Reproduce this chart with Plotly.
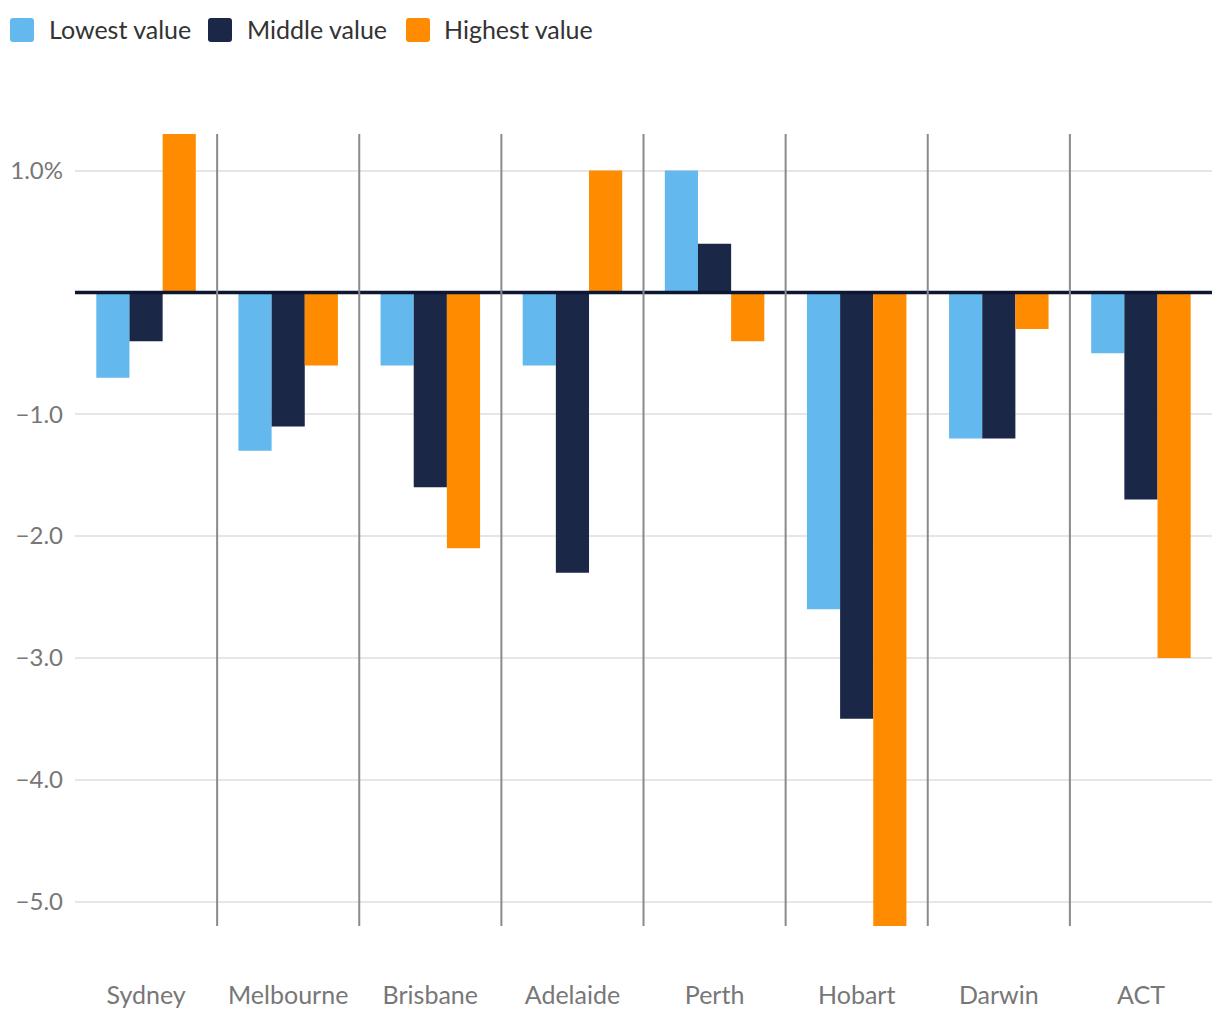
import plotly.graph_objects as go

categories = ["Sydney", "Melbourne", "Brisbane", "Adelaide", "Perth", "Hobart", "Darwin", "ACT"]
lowest = [-0.7, -1.3, -0.6, -0.6, 1.0, -2.6, -1.2, -0.5]
middle = [-0.4, -1.1, -1.6, -2.3, 0.4, -3.5, -1.2, -1.7]
highest = [1.3, -0.6, -2.1, 1.0, -0.4, -5.2, -0.3, -3.0]

series_names = ["Lowest value", "Middle value", "Highest value"]
series_colors = ["#63b8ee", "#1a2747", "#ff8c00"]
y_tickvals = [1, -1, -2, -3, -4, -5]
y_ticktext = ["1.0%", "\u22121.0", "\u22122.0", "\u22123.0", "\u22124.0", "\u22125.0"]

FONT = "Lato"
W, H = 1220, 1020
ML, MR, MT, MB = 67, 16, 126, 102
PW, PH = W - ML - MR, H - MT - MB


def px_x(px):
    return (px - ML) / PW


def px_y(py):
    return 1 - (py - MT) / PH


def rounded_square(x0, y0, size, r):
    X = lambda v: f"{px_x(v):.5f}"
    Y = lambda v: f"{px_y(v):.5f}"
    x1, y1 = x0 + size, y0 + size
    return (f"M {X(x0 + r)} {Y(y0)} L {X(x1 - r)} {Y(y0)} Q {X(x1)} {Y(y0)} {X(x1)} {Y(y0 + r)} "
            f"L {X(x1)} {Y(y1 - r)} Q {X(x1)} {Y(y1)} {X(x1 - r)} {Y(y1)} "
            f"L {X(x0 + r)} {Y(y1)} Q {X(x0)} {Y(y1)} {X(x0)} {Y(y1 - r)} "
            f"L {X(x0)} {Y(y0 + r)} Q {X(x0)} {Y(y0)} {X(x0 + r)} {Y(y0)} Z")


fig = go.Figure()
for name, vals, col in zip(series_names, [lowest, middle, highest], series_colors):
    fig.add_trace(go.Bar(x=categories, y=vals, name=name, marker=dict(color=col, line=dict(width=0)),
                         showlegend=False))

shapes = []
shapes.append(dict(type="line", xref="paper", x0=0, x1=1, yref="y", y0=0, y1=0,
                   line=dict(color="#0d1633", width=3.5), layer="above"))
for i in range(len(categories) - 1):
    shapes.append(dict(type="line", xref="x", x0=i + 0.5, x1=i + 0.5, yref="paper", y0=0, y1=1,
                       line=dict(color="#8a8a8a", width=2), layer="above"))

# manual legend (figure pixel positions)
legend_sq_x = [2, 200, 398]
legend_tx_x = [39, 237, 434]
annotations = []
for name, col, sx, tx in zip(series_names, series_colors, legend_sq_x, legend_tx_x):
    shapes.append(dict(type="path", xref="paper", yref="paper", path=rounded_square(sx, 10, 24, 3),
                       fillcolor=col, line=dict(width=0), layer="above"))
    annotations.append(dict(xref="paper", yref="paper", x=px_x(tx), y=px_y(21), text=name,
                            showarrow=False, xanchor="left", yanchor="middle",
                            font=dict(family=FONT, size=25, color="#333333")))

fig.update_layout(
    width=W, height=H,
    margin=dict(l=ML, r=MR, t=MT, b=MB, autoexpand=False),
    paper_bgcolor="white", plot_bgcolor="white",
    barmode="group", bargap=0.30, bargroupgap=0,
    font=dict(family=FONT, color="#777777", size=24),
    shapes=shapes, annotations=annotations,
    showlegend=False,
)
fig.update_xaxes(showgrid=False, zeroline=False, showline=False, ticks="",
                 tickfont=dict(size=25, color="#777777"), ticklabelstandoff=52,
                 range=[-0.5, len(categories) - 0.5])
fig.update_yaxes(range=[-5.2, 1.3], tickvals=y_tickvals, ticktext=y_ticktext,
                 showgrid=True, gridcolor="#e6e6e6", gridwidth=2, zeroline=False,
                 showline=False, ticks="", tickfont=dict(size=24, color="#777777"),
                 ticklabelstandoff=11)

fig.write_html("out.html")
